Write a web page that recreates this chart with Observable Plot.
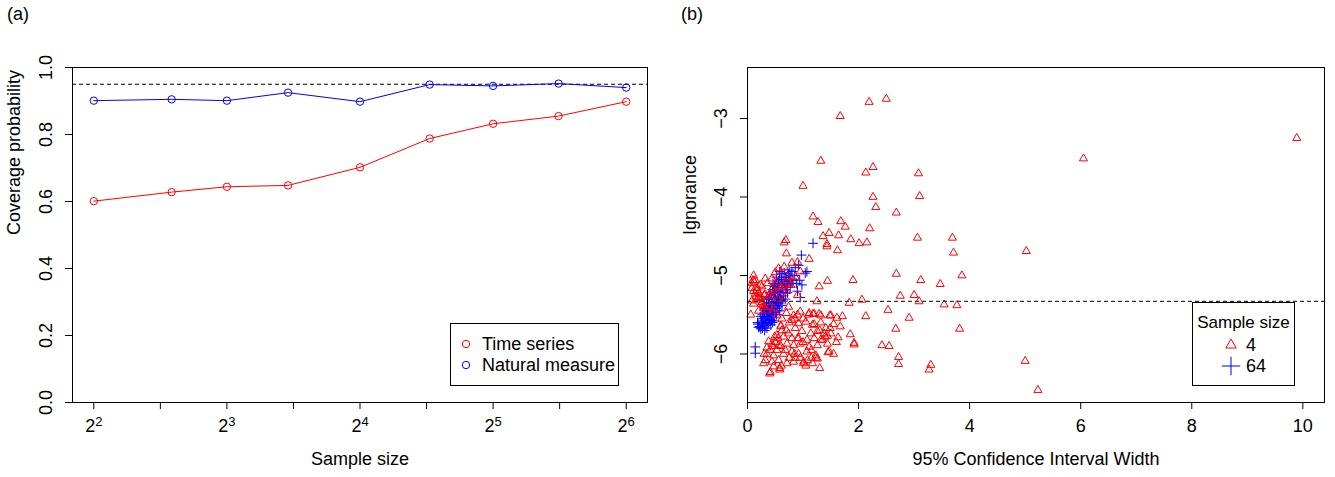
<!DOCTYPE html>
<html>
<head>
<meta charset="utf-8">
<script src="https://cdn.jsdelivr.net/npm/d3@7"></script>
<script src="https://cdn.jsdelivr.net/npm/@observablehq/plot@0.6"></script>
<style>
  html, body { margin: 0; padding: 0; background: #fff; }
  #figure { position: relative; width: 1335px; height: 477px; background: #fff;
            font-family: "Liberation Sans", Arial, Helvetica, sans-serif; }
  .panel { position: absolute; top: 0; z-index: 1; }
  .tag { position: absolute; top: 4px; font-size: 18px; color: #000; z-index: 3; }
  .overlay { position: absolute; left: 0; top: 0; pointer-events: none; z-index: 2; }
</style>
</head>
<body>
<div id="figure">
  <div id="panelA" class="panel" style="left:0px"></div>
  <div id="panelB" class="panel" style="left:667px"></div>
  <div class="tag" style="left:7px">(a)</div>
  <div class="tag" style="left:681px">(b)</div>
</div>
<script>
// ---------- Panel (a): coverage probability vs sample size ----------
const sampleSizes = [4, 6, 8, 11, 16, 23, 32, 45, 64];
const timeSeriesCoverage = [0.601, 0.628, 0.644, 0.648, 0.702, 0.788, 0.832, 0.855, 0.898];
const naturalMeasureCoverage = [0.901, 0.905, 0.901, 0.925, 0.898, 0.949, 0.945, 0.952, 0.940];
const nominalCoverage = 0.95;
const sizeTickExponents = [2, 2.5, 3, 3.5, 4, 4.5, 5, 5.5, 6];
const coverageTicks = [0, 0.2, 0.4, 0.6, 0.8, 1.0];
const coverageSeries = ["Time series", "Natural measure"];
const coverageColors = ["red", "blue"];

// ---------- Panel (b): ignorance vs confidence interval width ----------
// Sample size 4 (red triangles)
const widthN4 = [
  2.19, 2.50, 1.67, 1.32, 2.13, 2.26, 3.08, 1.00, 2.26, 3.10, 2.31, 2.68, 1.18, 1.27, 1.68, 1.76,
  2.20, 1.47, 1.64, 1.36, 1.86, 2.01, 2.15, 1.43, 1.43, 1.62, 3.06, 3.69, 3.71, 5.02, 0.69, 0.66,
  0.70, 1.11, 0.90, 0.66, 0.80, 2.68, 3.86, 3.12, 3.47, 1.90, 1.44, 1.29, 2.75, 3.00, 2.06, 1.25,
  1.83, 3.09, 3.54, 3.77, 2.53, 2.13, 2.91, 1.48, 1.61, 1.71, 1.29, 1.18, 2.67, 3.82, 1.67, 1.49,
  1.63, 1.85, 1.44, 1.92, 1.92, 1.45, 2.42, 2.55, 2.72, 2.72, 3.30, 3.27, 5.00, 5.23, 1.01, 1.23,
  0.40, 0.29, 0.61, 0.47, 1.08, 9.89, 6.05,
  0.95, 0.83, 1.11, 1.20, 1.32, 1.50, 0.80, 0.92, 1.05, 1.17, 1.32, 1.41, 0.86, 0.74, 0.98, 1.14,
  1.26, 1.38, 1.50, 0.53, 0.65, 0.80, 0.92, 1.07, 1.20, 1.32, 0.44, 0.56, 0.71, 0.83, 0.95, 1.11,
  1.26, 1.44, 0.41, 0.53, 0.68, 0.80, 0.92, 1.07, 1.23, 1.47, 0.32, 0.44, 0.56, 0.71, 0.83, 1.01,
  1.17, 1.26, 0.41, 0.53, 0.62, 0.38, 0.47, 0.58, 0.35, 0.49, 0.60,
  0.86, 0.95, 0.86, 0.32, 0.44, 0.53, 0.14, 0.23, 0.08, 0.17, 0.26, 0.08, 0.20, 0.32, 0.11, 0.23,
  0.17, 0.74, 0.56, 0.11, 0.17, 0.14, 0.20, 0.26, 0.11, 0.08,
  0.45, 0.60, 0.70, 0.55, 0.40, 0.65, 0.75, 0.30, 0.20, 0.35, 0.85, 0.90, 0.78, 0.28, 0.38, 0.50,
  0.12, 0.22, 0.36, 0.64, 0.72,
  0.50, 0.60, 0.70, 0.75, 0.90, 1.00, 1.10, 1.20, 1.30, 1.40, 1.35, 1.15, 1.00, 0.90, 0.60, 0.50,
  0.65, 0.75, 0.85, 0.95, 1.05, 1.15, 0.35, 0.30, 0.45, 0.55, 0.62, 0.70, 0.48, 0.58, 1.30, 1.55,
  1.55, 1.60, 0.06, 0.15, 0.25, 0.10, 0.30, 0.42
];
const ignoranceN4 = [
  -2.79, -2.75, -2.97, -3.54, -3.69, -3.62, -3.70, -3.86, -4.00, -3.99, -4.13, -4.20, -4.25, -4.32, -4.31, -4.38,
  -4.40, -4.46, -4.49, -4.50, -4.54, -4.59, -4.58, -4.60, -4.63, -4.68, -4.52, -4.52, -4.71, -4.69, -4.55, -4.58,
  -4.72, -4.79, -4.83, -4.89, -4.84, -4.98, -5.00, -5.06, -5.11, -5.06, -5.07, -5.14, -5.26, -5.25, -5.31, -5.33,
  -5.35, -5.33, -5.37, -5.38, -5.44, -5.52, -5.54, -5.51, -5.54, -5.52, -5.49, -5.49, -5.68, -5.68, -5.65, -5.67,
  -5.79, -5.75, -5.77, -5.86, -5.88, -5.98, -5.89, -5.90, -6.04, -6.13, -6.14, -6.20, -6.09, -6.46, -6.12, -6.05,
  -6.25, -6.12, -6.15, -6.16, -6.08, -3.25, -3.51,
  -5.46, -5.51, -5.48, -5.49, -5.51, -5.51, -5.57, -5.61, -5.59, -5.63, -5.60, -5.67, -5.67, -5.74, -5.71, -5.74,
  -5.71, -5.74, -5.74, -5.76, -5.78, -5.80, -5.80, -5.82, -5.80, -5.82, -5.87, -5.89, -5.87, -5.89, -5.87, -5.91,
  -5.89, -5.87, -5.95, -5.95, -5.95, -5.97, -6.00, -5.97, -6.02, -5.97, -6.08, -6.10, -6.08, -6.12, -6.10, -6.10,
  -6.12, -6.06, -6.23, -5.51, -5.70, -5.84, -6.02, -6.18, -5.92, -5.78, -5.64, -6.05,
  -4.95, -5.02, -5.04, -5.04, -5.08, -5.06, -5.12, -5.10, -5.16, -5.14, -5.16, -5.22, -5.24, -5.20, -5.29, -5.31,
  -5.40, -4.91, -5.00, -5.19, -5.23, -5.28, -5.34, -5.36, -5.32, -5.17,
  -5.15, -5.20, -5.30, -5.40, -5.30, -5.10, -5.25, -5.45, -5.45, -5.55, -5.25, -5.12, -5.38, -5.26, -5.20, -5.08,
  -5.24, -5.10, -5.12, -5.02, -4.96,
  -5.65, -5.70, -5.60, -5.50, -5.55, -5.50, -5.62, -5.70, -5.78, -5.82, -5.95, -5.85, -5.80, -5.90, -5.85, -6.00,
  -6.05, -6.00, -6.05, -6.15, -6.05, -6.00, -6.00, -5.90, -5.80, -5.55, -5.48, -5.42, -6.20, -6.18, -6.00, -5.62,
  -5.85, -5.50, -5.27, -5.36, -5.06, -5.40, -5.26, -5.22
];
// Sample size 64 (blue crosses)
const widthN64 = [
  0.62, 0.70, 0.75, 0.58, 0.66, 0.78, 0.55, 0.72, 0.62, 0.50, 0.82, 0.68,
  0.45, 0.55, 0.60, 0.50, 0.42, 0.65, 0.57, 0.48, 0.38, 0.52, 0.44, 0.60, 0.35, 0.47, 0.40, 0.55,
  0.32, 0.45, 0.38, 0.50, 0.30, 0.42, 0.35, 0.47, 0.28, 0.40, 0.33, 0.25, 0.37, 0.30, 0.22, 0.42,
  0.27, 0.35, 0.20, 0.45, 0.52, 0.58, 0.62, 0.68, 0.72,
  0.53, 0.47, 0.40, 0.36, 0.31, 0.26, 0.57, 0.63, 0.51, 0.44, 0.39, 0.55,
  0.97, 1.18, 0.80, 0.86, 0.92, 0.75, 0.85, 1.04, 1.07, 0.94, 0.98, 0.95, 0.88, 0.90,
  0.14, 0.14,
  0.18, 0.24, 0.29, 0.34, 0.40, 0.46, 0.52, 0.58, 0.66, 0.73, 0.70, 0.64, 0.60, 0.55, 0.50, 0.46,
  0.43, 0.38, 0.33, 0.28, 0.24, 0.31, 0.19, 0.48, 0.53, 0.57, 0.61, 0.67, 0.77, 0.80, 0.36, 0.41,
  0.27, 0.34, 0.49, 0.44, 0.39, 0.69, 0.74, 0.56
];
const ignoranceN64 = [
  -4.98, -5.02, -5.05, -5.05, -5.08, -5.00, -5.10, -5.12, -5.15, -5.12, -5.06, -5.18,
  -5.18, -5.20, -5.22, -5.25, -5.24, -5.26, -5.28, -5.30, -5.30, -5.33, -5.35, -5.32, -5.36, -5.38, -5.40, -5.40,
  -5.42, -5.44, -5.46, -5.47, -5.48, -5.50, -5.52, -5.53, -5.55, -5.56, -5.58, -5.60, -5.61, -5.63, -5.65, -5.63,
  -5.67, -5.67, -5.66, -5.60, -5.50, -5.45, -5.38, -5.30, -5.22,
  -5.15, -5.22, -5.34, -5.44, -5.53, -5.58, -5.35, -5.12, -5.42, -5.48, -5.52, -5.27,
  -4.74, -4.59, -4.95, -4.90, -4.87, -4.93, -5.00, -4.97, -4.95, -5.06, -5.12, -5.28, -5.10, -5.20,
  -5.91, -5.99,
  -5.60, -5.52, -5.44, -5.30, -5.22, -5.10, -5.02, -4.95, -4.97, -5.08, -5.15, -5.22, -5.30, -5.35, -5.38, -5.42,
  -5.57, -5.60, -5.64, -5.60, -5.68, -5.70, -5.62, -5.58, -5.45, -5.20, -5.05, -5.10, -5.15, -5.10, -5.48, -5.45,
  -5.50, -5.40, -5.14, -5.28, -5.38, -5.02, -4.98, -5.07
];
const ignoranceReference = -5.33;
const widthTicks = [0, 2, 4, 6, 8, 10];
const ignoranceTicks = [-6, -5, -4, -3];
const sampleSizeGroups = ["4", "64"];

const font = '"Liberation Sans", Arial, Helvetica, sans-serif';
const style = {fontFamily: font, fontSize: "18px", color: "black", background: "transparent", overflow: "visible"};

// Tidy table for panel (a)
const coverageRows = sampleSizes.flatMap((n, i) => [
  {n, p: timeSeriesCoverage[i], series: coverageSeries[0]},
  {n, p: naturalMeasureCoverage[i], series: coverageSeries[1]}
]);
const sizeTicks = sizeTickExponents.map(e => 2 ** e);

const plotA = Plot.plot({
  width: 660, height: 477,
  marginLeft: 72, marginRight: 13, marginTop: 67, marginBottom: 75,
  style,
  x: {type: "log", base: 2, domain: [2 ** 1.84, 2 ** 6.16]},
  y: {domain: [0, 1]},
  color: {domain: coverageSeries, range: coverageColors},
  marks: [
    Plot.ruleY([nominalCoverage], {stroke: "black", strokeDasharray: "4,3", strokeWidth: 1}),
    Plot.line(coverageRows, {x: "n", y: "p", z: "series", stroke: "series", strokeWidth: 1}),
    Plot.dot(coverageRows, {x: "n", y: "p", stroke: "series", r: 3.7, strokeWidth: 1}),
    Plot.axisX({ticks: sizeTicks, tickSize: 7, tickPadding: 10, label: null,
      tickFormat: d => Number.isInteger(Math.log2(d)) ? "2^" + Math.log2(d) : ""}),
    Plot.axisY({ticks: coverageTicks, tickSize: 7, tickFormat: () => "", label: null}),
    Plot.text(coverageTicks, {y: d => d, text: d => d.toFixed(1), frameAnchor: "left", dx: -26,
      rotate: -90, textAnchor: "middle", lineAnchor: "middle"}),
    Plot.text(["Coverage probability"], {frameAnchor: "left", dx: -58, rotate: -90, lineAnchor: "middle"}),
    Plot.text(["Sample size"], {frameAnchor: "bottom", dy: 57, lineAnchor: "middle"}),
    Plot.frame({stroke: "black", strokeWidth: 1})
  ]
});
// Power-of-two tick labels with a raised exponent
d3.select(plotA).selectAll("g[aria-label='x-axis tick label'] text").each(function () {
  const t = this.textContent;
  if (t.startsWith("2^")) {
    const e = t.slice(2);
    this.textContent = "";
    d3.select(this).append("tspan").text("2");
    d3.select(this).append("tspan").attr("dy", "-0.5em").attr("font-size", "13px").text(e);
  }
});
document.getElementById("panelA").appendChild(plotA);

// Panel (b)
const scatterRows = [
  ...widthN4.map((w, i) => ({w, ig: ignoranceN4[i], group: sampleSizeGroups[0]})),
  ...widthN64.map((w, i) => ({w, ig: ignoranceN64[i], group: sampleSizeGroups[1]}))
];
const plotB = Plot.plot({
  width: 668, height: 477,
  marginLeft: 80, marginRight: 11, marginTop: 67, marginBottom: 75,
  style,
  x: {domain: [0, 10.39]},
  y: {domain: [-6.618, -2.35]},
  symbol: {domain: sampleSizeGroups, range: ["triangle", "plus"]},
  color: {domain: sampleSizeGroups, range: ["red", "blue"]},
  marks: [
    Plot.dot(scatterRows, {x: "w", y: "ig", symbol: "group", stroke: "group",
      r: d => d.group === "4" ? 5 : 6, strokeWidth: 1}),
    Plot.ruleY([ignoranceReference], {stroke: "#333", strokeDasharray: "4,3", strokeWidth: 1.2}),
    Plot.axisX({ticks: widthTicks, tickSize: 7, tickPadding: 10, label: null}),
    Plot.axisY({ticks: ignoranceTicks, tickSize: 7, tickFormat: () => "", label: null}),
    Plot.text(ignoranceTicks, {y: d => d, text: d => "\u2212" + Math.abs(d), frameAnchor: "left", dx: -26,
      rotate: -90, textAnchor: "middle", lineAnchor: "middle"}),
    Plot.text(["Ignorance"], {frameAnchor: "left", dx: -57, rotate: -90, lineAnchor: "middle"}),
    Plot.text(["95% Confidence Interval Width"], {frameAnchor: "bottom", dy: 57, lineAnchor: "middle"}),
    Plot.frame({stroke: "black", strokeWidth: 1})
  ]
});
document.getElementById("panelB").appendChild(plotB);

// Legends, drawn as an SVG layer over both panels
const ov = d3.select("#figure").append("svg").attr("class", "overlay")
  .attr("width", 1335).attr("height", 477)
  .style("font-family", font).style("font-size", "18px");

// Legend (a)
const legA = ov.append("g");
legA.append("rect").attr("x", 450.5).attr("y", 323.5).attr("width", 168).attr("height", 62)
  .attr("fill", "white").attr("stroke", "black");
coverageSeries.forEach((s, i) => {
  const y = 344 + i * 21;
  legA.append("circle").attr("cx", 466).attr("cy", y).attr("r", 3.7).attr("fill", "none")
    .attr("stroke", coverageColors[i]);
  legA.append("text").attr("x", 482).attr("y", y).attr("dy", "0.35em").text(s);
});

// Legend (b)
const legB = ov.append("g");
legB.append("rect").attr("x", 1192.5).attr("y", 302.5).attr("width", 102).attr("height", 83)
  .attr("fill", "white").attr("stroke", "black");
legB.append("text").attr("x", 1243.5).attr("y", 322).attr("dy", "0.35em").attr("text-anchor", "middle")
  .attr("font-size", "17px").text("Sample size");
const legSymbols = [d3.symbol(d3.symbolTriangle2, Math.PI * 25), d3.symbol(d3.symbolPlus, Math.PI * 36)];
const legColors = ["red", "blue"];
sampleSizeGroups.forEach((g, i) => {
  const y = 345 + i * 21;
  legB.append("path").attr("d", legSymbols[i]()).attr("transform", `translate(1231,${y})`)
    .attr("fill", "none").attr("stroke", legColors[i]);
  legB.append("text").attr("x", 1246).attr("y", y).attr("dy", "0.35em").text(g);
});
</script>
</body>
</html>
